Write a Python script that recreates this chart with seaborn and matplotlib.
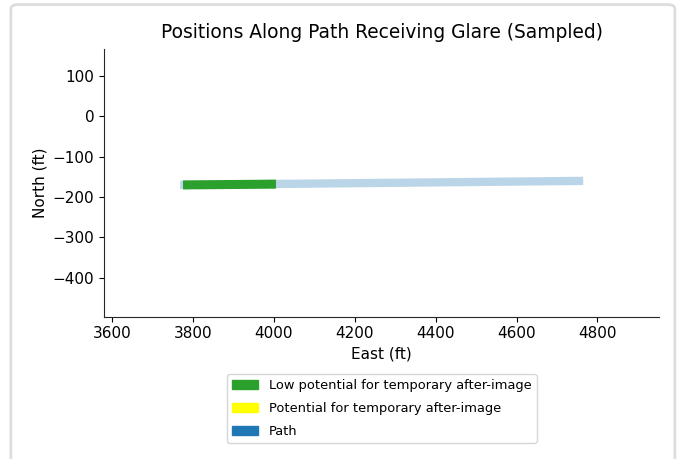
import matplotlib.pyplot as plt
import seaborn as sns
import pandas as pd
from matplotlib.patches import Patch, FancyBboxPatch

# path centreline (ft)
path_east = [3768, 4765]
path_north = [-170, -160]

# sampled positions with low potential for after-image
low_east = [3775, 4005]
low_north = [-170, -168]

legend_labels = [
    "Low potential for temporary after-image",
    "Potential for temporary after-image",
    "Path",
]
legend_colors = ["#2ca02c", "yellow", "#1f77b4"]

path_df = pd.DataFrame({"East": path_east, "North": path_north})
low_df = pd.DataFrame({"East": low_east, "North": low_north})

sns.set_style("ticks")
plt.rcParams["font.family"] = ["DejaVu Sans"]
plt.rcParams["text.color"] = "black"
plt.rcParams["axes.labelcolor"] = "black"
plt.rcParams["xtick.color"] = "black"
plt.rcParams["ytick.color"] = "black"

fig = plt.figure(figsize=(6.81, 4.59), dpi=100)
ax = fig.add_axes([0.153, 0.31, 0.815, 0.583])

sns.lineplot(data=path_df, x="East", y="North", sort=False, ax=ax,
             color="#1f77b4", alpha=0.3, linewidth=6, solid_capstyle="butt")
sns.lineplot(data=low_df, x="East", y="North", sort=False, ax=ax,
             color="#2ca02c", linewidth=6.5, solid_capstyle="butt")

ax.set_xlim(3580, 4953)
ax.set_ylim(-496, 166)
ax.set_xticks([3600, 3800, 4000, 4200, 4400, 4600, 4800])
ax.set_yticks([100, 0, -100, -200, -300, -400])
ax.set_xlabel("East (ft)", fontsize=11)
ax.set_ylabel("North (ft)", fontsize=11)
ax.set_title("Positions Along Path Receiving Glare (Sampled)", fontsize=13.4, pad=8)
ax.tick_params(labelsize=11)
sns.despine(ax=ax)

handles = [Patch(color=c, label=l) for c, l in zip(legend_colors, legend_labels)]
ax.legend(handles=handles, loc="upper center", bbox_to_anchor=(0.5, -0.19),
          fontsize=9.4, frameon=True, labelspacing=0.75)

# light frame around the whole picture
fig.patches.append(FancyBboxPatch((0.016, -0.05), 0.975, 1.04,
                                  boxstyle="round,pad=0,rounding_size=0.01",
                                  transform=fig.transFigure, fill=False,
                                  edgecolor="#dddddd", linewidth=2))

fig.savefig("out.png", dpi=100)
